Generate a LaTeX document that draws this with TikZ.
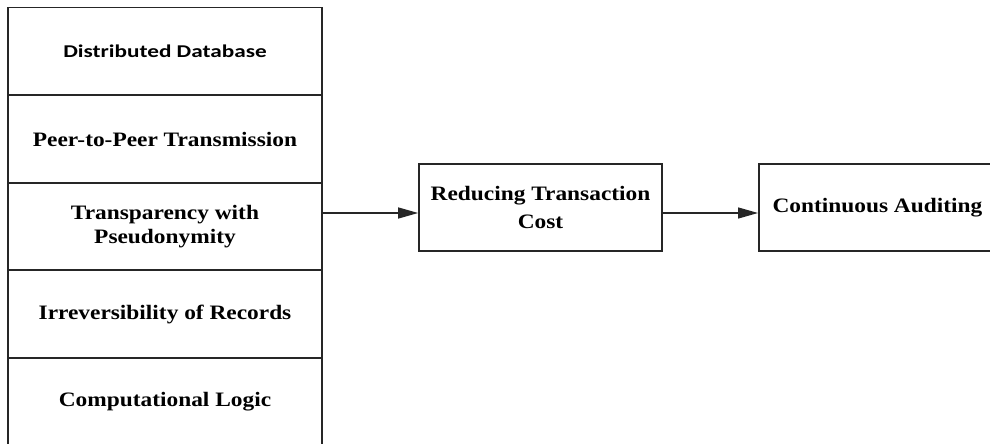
\documentclass[tikz,border=0pt]{standalone}
\usepackage{fontspec}
\setmainfont{Liberation Serif}[FakeStretch=1.14]
\newfontfamily\calibfont{Carlito}[FakeStretch=1.29]
\usetikzlibrary{arrows.meta}

\begin{document}
\begin{tikzpicture}[x=1pt, y=-1pt,
    box/.style={draw, line width=1.8pt, draw=black!85, align=center,
                font=\fontsize{20.5}{23.5}\selectfont\bfseries},
    flow/.style={-{Triangle[length=20pt, width=11pt]}, line width=1.4pt, draw=black!85}]
    \clip (0,0) rectangle (990,444);

    % feature stack
    \node[box, minimum width=314pt, minimum height=88pt, font=\calibfont\fontsize{18}{22}\selectfont\bfseries] (dist) at (165,51.5) {Distributed Database};
    \node[box, minimum width=314pt, minimum height=88pt] (peer) at (165,139) {Peer-to-Peer Transmission};
    \node[box, minimum width=314pt, minimum height=87pt] (trans) at (165,226.5) {Transparency with\\Pseudonymity};
    \node[box, minimum width=314pt, minimum height=88pt] (irrev) at (165,314) {Irreversibility of Records};
    \node[box, minimum width=314pt, minimum height=88pt] (logic) at (165,402) {Computational Logic};

    % middle block
    \node[box, minimum width=243pt, minimum height=87pt] (cost) at (540.5,207.5) {Reducing Transaction\\[4.5pt]Cost};

    % right block
    \node[box, minimum width=240pt, minimum height=87pt, anchor=west] (audit) at (758,207.5) {\hspace*{-3pt}Continuous Auditing};

    % connections
    \coordinate (lvl) at ([yshift=-5.5pt]cost.west);
    \draw[flow] (trans.east |- lvl) -- (lvl);
    \draw[flow] ([yshift=-5.5pt]cost.east) -- ([yshift=-5.5pt]audit.west);
\end{tikzpicture}
\end{document}
